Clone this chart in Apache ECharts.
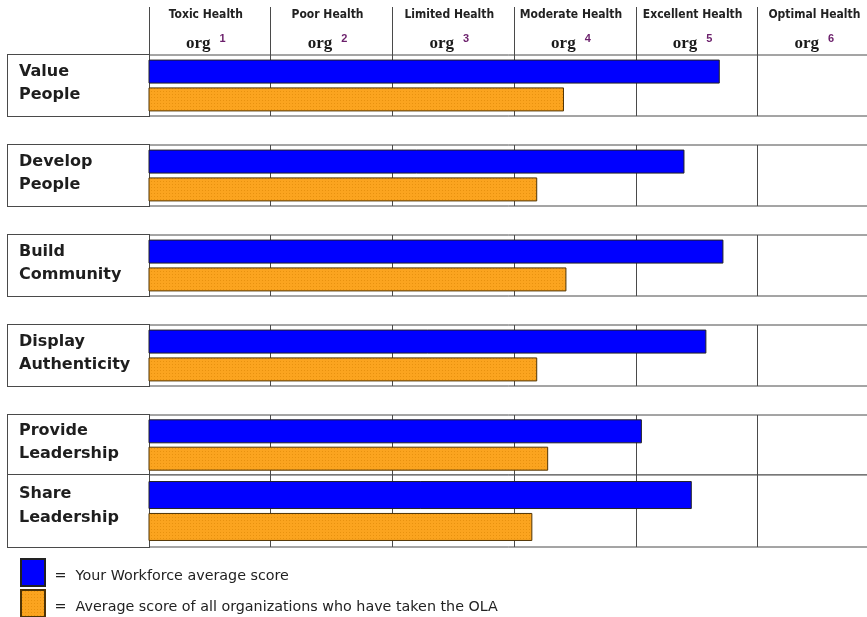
<!DOCTYPE html>
<html>
<head>
<meta charset="utf-8">
<script src="https://cdn.jsdelivr.net/npm/echarts@6/dist/echarts.min.js"></script>
<style>
  html, body { margin: 0; padding: 0; background: #fff; }
  #chart { width: 867px; height: 617px; }
</style>
</head>
<body>
<div id="chart"></div>
<script>
// Health levels shown as columns across the top
const levels = ['Toxic Health', 'Poor Health', 'Limited Health', 'Moderate Health', 'Excellent Health', 'Optimal Health'];
const levelNumbers = ['1', '2', '3', '4', '5', '6'];

// Leadership dimensions (one row each)
const dimensions = ['Value\nPeople', 'Develop\nPeople', 'Build\nCommunity', 'Display\nAuthenticity', 'Provide\nLeadership', 'Share\nLeadership'];

// Scores on the 1..7 scale
const workforceScores = [5.69, 5.40, 5.72, 5.58, 5.05, 5.46];
const allOrgScores = [4.41, 4.19, 4.43, 4.19, 4.28, 4.15];

const seriesNames = ['Your Workforce average score', 'Average score of all organizations who have taken the OLA'];

// Row bands: vertical placement of each table row
const rowBands = [
  { top: 55,  height: 61, bar: 24, gap: '16%', lh: 23, pad: [5, 0, 10, 11] },
  { top: 145, height: 61, bar: 24, gap: '16%', lh: 23, pad: [5, 0, 10, 11] },
  { top: 235, height: 61, bar: 24, gap: '16%', lh: 23, pad: [5, 0, 10, 11] },
  { top: 325, height: 61, bar: 24, gap: '16%', lh: 23, pad: [5, 0, 10, 11] },
  { top: 415, height: 60, bar: 24, gap: '14%', lh: 23, pad: [4, 0, 10, 11] },
  { top: 475, height: 72, bar: 28, gap: '14%', lh: 24, pad: [7, 0, 17, 11] }
];

const LINE = '#4a4a4a';
const PLOT_LEFT = 149;
const COL_W = 121.7;

// dotted orange fill
function dottedPattern() {
  const c = document.createElement('canvas');
  c.width = 3; c.height = 3;
  const g = c.getContext('2d');
  g.fillStyle = '#fba41f';
  g.fillRect(0, 0, 3, 3);
  g.fillStyle = '#e8920f';
  g.fillRect(1, 1, 1, 1);
  return c;
}
const orangeFill = { image: dottedPattern(), repeat: 'repeat' };

const grids = [], xAxes = [], yAxes = [], series = [];

rowBands.forEach((b, i) => {
  grids.push({
    left: PLOT_LEFT, top: b.top, width: COL_W * 6, height: b.height,
    show: true, borderColor: LINE, borderWidth: 1, backgroundColor: '#fff',
    outerBoundsMode: 'none'
  });
  xAxes.push({
    type: 'value', gridIndex: i, min: 1, max: 7, interval: 1,
    axisLabel: { show: false }, axisTick: { show: false }, axisLine: { show: false },
    splitLine: { show: true, lineStyle: { color: LINE, width: 1 } }
  });
  const words = dimensions[i].split('\n');
  yAxes.push({
    type: 'category', gridIndex: i, data: [dimensions[i]],
    axisLine: { show: false }, axisTick: { show: false }, splitLine: { show: false },
    axisLabel: {
      margin: 0,
      width: 130,
      padding: b.pad,
      backgroundColor: '#fff',
      borderColor: LINE,
      borderWidth: 1,
      formatter: () => words.map(w => '{n|' + w + '}').join('\n'),
      rich: {
        n: {
          align: 'left', fontFamily: 'DejaVu Sans', fontWeight: 'bold',
          fontSize: 16, lineHeight: b.lh, color: '#1e1e1e'
        }
      }
    }
  });
  series.push({
    name: seriesNames[0], type: 'bar', xAxisIndex: i, yAxisIndex: i,
    data: [workforceScores[i]], barWidth: b.bar, barGap: b.gap,
    itemStyle: { color: '#0000ff', borderColor: '#222', borderWidth: 1 },
    emphasis: { disabled: true }
  });
  series.push({
    name: seriesNames[1], type: 'bar', xAxisIndex: i, yAxisIndex: i,
    data: [allOrgScores[i]], barWidth: b.bar, barGap: b.gap,
    itemStyle: { color: orangeFill, borderColor: '#4f3406', borderWidth: 1 },
    emphasis: { disabled: true }
  });
});

// Header axis above the first row: level names, "org n" and column dividers
xAxes.push({
  type: 'category', gridIndex: 0, position: 'top', data: levels, boundaryGap: true,
  axisLine: { show: false },
  axisTick: { show: true, interval: 0, length: 48, lineStyle: { color: LINE, width: 1 } },
  splitLine: { show: false },
  axisLabel: {
    interval: 0, margin: 0, padding: [0, 8, 0, 0],
    formatter: (v, idx) => '{t|' + v + '}\n{g| }\n{o|org}{s|' + levelNumbers[idx] + '}',
    rich: {
      t: { fontFamily: '"DejaVu Sans Condensed", "Liberation Sans Narrow", "Liberation Sans", sans-serif', fontWeight: 'bold', fontSize: 12, lineHeight: 20, color: '#222' },
      g: { fontSize: 4, lineHeight: 8 },
      o: { fontFamily: '"Liberation Serif", serif', fontWeight: 'bold', fontSize: 17, lineHeight: 22, color: '#1a1a1a', padding: [0, 9, 0, 0] },
      s: { fontFamily: '"Liberation Sans", sans-serif', fontWeight: 'bold', fontSize: 11, lineHeight: 14, color: '#6b1f6b', verticalAlign: 'top' }
    }
  }
});

// Two stacked legend entries below the table
const legendBase = {
  orient: 'vertical', left: 20, padding: 0,
  itemWidth: 24, itemHeight: 27, icon: 'rect',
  selectedMode: false,
  formatter: name => '{a| =  ' + name + '}',
  textStyle: {
    fontFamily: 'DejaVu Sans', fontSize: 14.3, color: '#222',
    rich: { a: { fontFamily: 'DejaVu Sans', fontSize: 14.3, color: '#222', lineHeight: 16, padding: [8, 0, 0, 0] } }
  }
};

const chart = echarts.init(document.getElementById('chart'), null, { renderer: 'canvas' });
chart.setOption({
  animation: false,
  backgroundColor: '#fff',
  grid: grids,
  xAxis: xAxes,
  yAxis: yAxes,
  series: series,
  legend: [
    Object.assign({}, legendBase, { data: [seriesNames[0]], top: 558 }),
    Object.assign({}, legendBase, { data: [seriesNames[1]], top: 589 })
  ]
});
</script>
</body>
</html>
